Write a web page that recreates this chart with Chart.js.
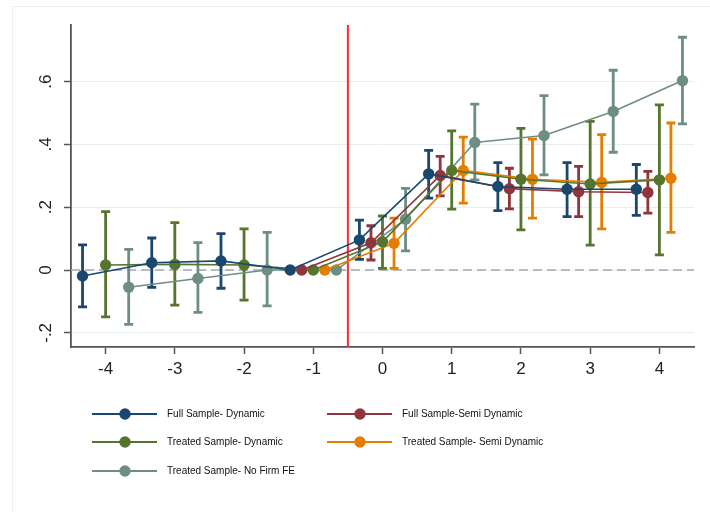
<!DOCTYPE html>
<html>
<head>
<meta charset="utf-8">
<script src="https://cdn.jsdelivr.net/npm/chart.js@4.4.1/dist/chart.umd.min.js"></script>
<style>
  html, body { margin: 0; padding: 0; background: #ffffff; }
  #wrap { width: 710px; height: 512px; position: relative; }
</style>
</head>
<body>
<div id="wrap"><canvas id="c" width="710" height="512"></canvas></div>
<script>
// ---------- DATA ----------
const periods = [-4, -3, -2, -1, 0, 1, 2, 3, 4];
const xTickValues = [-4, -3, -2, -1, 0, 1, 2, 3, 4];
const xTickLabels = ['-4', '-3', '-2', '-1', '0', '1', '2', '3', '4'];
const yTickValues = [-0.2, 0, 0.2, 0.4, 0.6];
const yTickLabels = ['-.2', '0', '.2', '.4', '.6'];
const eventLine = -0.5;

const seriesNames = [
  'Full Sample- Dynamic',
  'Full Sample-Semi Dynamic',
  'Treated Sample- Dynamic',
  'Treated Sample- Semi Dynamic',
  'Treated Sample- No Firm FE'
];

const fullDyn    = [-0.019, 0.023, 0.029, 0, 0.096, 0.306, 0.266, 0.257, 0.257];
const fullDynLo  = [-0.117, -0.055, -0.058, null, 0.034, 0.229, 0.189, 0.170, 0.174];
const fullDynHi  = [0.080, 0.102, 0.116, null, 0.159, 0.381, 0.342, 0.342, 0.336];

const fullSemi   = [null, null, null, 0, 0.087, 0.301, 0.259, 0.249, 0.247];
const fullSemiLo = [null, null, null, null, 0.032, 0.236, 0.195, 0.170, 0.181];
const fullSemiHi = [null, null, null, null, 0.141, 0.362, 0.324, 0.330, 0.314];

const trDyn      = [0.016, 0.018, 0.016, 0, 0.090, 0.317, 0.289, 0.274, 0.287];
const trDynLo    = [-0.149, -0.112, -0.096, null, 0.005, 0.194, 0.128, 0.079, 0.048];
const trDynHi    = [0.186, 0.151, 0.131, null, 0.172, 0.443, 0.451, 0.473, 0.526];

const trSemi     = [null, null, null, 0, 0.085, 0.317, 0.289, 0.279, 0.292];
const trSemiLo   = [null, null, null, null, 0.005, 0.213, 0.165, 0.131, 0.120];
const trSemiHi   = [null, null, null, null, 0.165, 0.423, 0.417, 0.431, 0.468];

const noFE       = [-0.055, -0.027, 0.000, 0, 0.162, 0.406, 0.428, 0.505, 0.603];
const noFELo     = [-0.173, -0.135, -0.114, null, 0.061, 0.287, 0.303, 0.375, 0.465];
const noFEHi     = [0.066, 0.087, 0.120, null, 0.260, 0.528, 0.555, 0.636, 0.741];

// ---------- STYLE ----------
const offsets = [-1/3, -1/6, 0, 1/6, 1/3];
const colors = ['#1a476f', '#90353b', '#55752f', '#e37e00', '#6e8e84'];
const values = [fullDyn, fullSemi, trDyn, trSemi, noFE];
const lows   = [fullDynLo, fullSemiLo, trDynLo, trSemiLo, noFELo];
const highs  = [fullDynHi, fullSemiHi, trDynHi, trSemiHi, noFEHi];

function buildPoints(i) {
  const pts = [];
  periods.forEach((p, k) => {
    if (values[i][k] !== null) {
      pts.push({ x: p + offsets[i], y: values[i][k], lo: lows[i][k], hi: highs[i][k] });
    }
  });
  return pts;
}

const datasets = seriesNames.map((name, i) => ({
  label: name,
  data: buildPoints(i),
  showLine: true,
  borderColor: colors[i],
  backgroundColor: colors[i],
  pointBackgroundColor: colors[i],
  pointBorderColor: colors[i],
  pointRadius: 5.7,
  pointBorderWidth: 0,
  borderWidth: 1.6,
  tension: 0
}));

const FONT = '"Liberation Sans", Arial, sans-serif';

const decorPlugin = {
  id: 'decor',
  beforeDraw(chart) {
    const ctx = chart.ctx;
    ctx.save();
    ctx.fillStyle = '#ffffff';
    ctx.fillRect(0, 0, chart.width, chart.height);
    ctx.strokeStyle = '#eeeeee';
    ctx.lineWidth = 1;
    ctx.strokeRect(12.5, 6.5, chart.width, chart.height);
    ctx.restore();
  },
  beforeDatasetsDraw(chart) {
    const ctx = chart.ctx;
    const xs = chart.scales.x, ys = chart.scales.y;
    const area = chart.chartArea;
    ctx.save();
    // zero dashed line
    ctx.strokeStyle = '#a8a8a8';
    ctx.lineWidth = 1.6;
    ctx.setLineDash([9, 5]);
    const y0 = ys.getPixelForValue(0);
    ctx.beginPath();
    ctx.moveTo(area.left, y0);
    ctx.lineTo(area.right, y0);
    ctx.stroke();
    ctx.setLineDash([]);
    // red event line
    const xr = xs.getPixelForValue(eventLine);
    ctx.strokeStyle = '#ff2a2a';
    ctx.lineWidth = 2;
    ctx.beginPath();
    ctx.moveTo(xr, area.top);
    ctx.lineTo(xr, area.bottom);
    ctx.stroke();
    // error bars
    chart.data.datasets.forEach((ds) => {
      ctx.strokeStyle = ds.borderColor;
      ctx.lineWidth = 2.8;
      ds.data.forEach((pt) => {
        if (pt.lo === null || pt.hi === null) return;
        const x = xs.getPixelForValue(pt.x);
        const yl = ys.getPixelForValue(pt.lo);
        const yh = ys.getPixelForValue(pt.hi);
        ctx.beginPath();
        ctx.moveTo(x, yl); ctx.lineTo(x, yh);
        ctx.moveTo(x - 4.5, yl); ctx.lineTo(x + 4.5, yl);
        ctx.moveTo(x - 4.5, yh); ctx.lineTo(x + 4.5, yh);
        ctx.stroke();
      });
    });
    ctx.restore();
  },
  afterDraw(chart) {
    const ctx = chart.ctx;
    const ys = chart.scales.y;
    ctx.save();
    // rotated y tick labels
    ctx.fillStyle = '#222222';
    ctx.font = '17px ' + FONT;
    ctx.textAlign = 'center';
    ctx.textBaseline = 'middle';
    yTickValues.forEach((v, i) => {
      const y = ys.getPixelForValue(v);
      ctx.save();
      ctx.translate(46, y);
      ctx.rotate(-Math.PI / 2);
      ctx.fillText(yTickLabels[i], 0, 0);
      ctx.restore();
    });
    // legend
    const cols = [92, 327];
    const rows = [414, 442, 471];
    ctx.font = '10px ' + FONT;
    ctx.textAlign = 'left';
    ctx.textBaseline = 'middle';
    chart.data.datasets.forEach((ds, i) => {
      const cx = cols[i % 2];
      const cy = rows[Math.floor(i / 2)];
      ctx.strokeStyle = ds.borderColor;
      ctx.lineWidth = 2;
      ctx.beginPath();
      ctx.moveTo(cx, cy); ctx.lineTo(cx + 65, cy);
      ctx.stroke();
      ctx.fillStyle = ds.borderColor;
      ctx.beginPath();
      ctx.arc(cx + 33, cy, 5.7, 0, Math.PI * 2);
      ctx.fill();
      ctx.fillStyle = '#111111';
      ctx.fillText(ds.label, cx + 75, cy);
    });
    ctx.restore();
  }
};

new Chart(document.getElementById('c'), {
  type: 'scatter',
  data: { datasets },
  options: {
    responsive: false,
    animation: false,
    devicePixelRatio: 1,
    layout: { padding: { left: 0, top: 25, right: 16, bottom: 125 } },
    plugins: { legend: { display: false }, tooltip: { enabled: false } },
    scales: {
      x: {
        type: 'linear',
        min: -4.5, max: 4.5,
        afterBuildTicks: (s) => { s.ticks = xTickValues.map(v => ({ value: v })); },
        afterFit: (s) => { s.height = 40; },
        ticks: {
          callback: (v) => { const k = xTickValues.indexOf(v); return k >= 0 ? xTickLabels[k] : ''; },
          font: { size: 17, family: FONT },
          color: '#222222',
          padding: 5,
          maxRotation: 0, minRotation: 0,
          autoSkip: false
        },
        grid: { drawOnChartArea: false, drawTicks: true, tickLength: 7, tickColor: '#555555', tickWidth: 1.5 },
        border: { color: '#555555', width: 1.8 }
      },
      y: {
        type: 'linear',
        min: -0.245, max: 0.78,
        afterBuildTicks: (s) => { s.ticks = yTickValues.map(v => ({ value: v })); },
        afterFit: (s) => { s.width = 71; },
        ticks: { display: false },
        grid: { color: '#e6f0f2', lineWidth: 1, drawTicks: true, tickLength: 7, tickColor: '#555555', tickWidth: 1.5 },
        border: { color: '#555555', width: 1.8 }
      }
    }
  },
  plugins: [decorPlugin]
});
</script>
</body>
</html>
